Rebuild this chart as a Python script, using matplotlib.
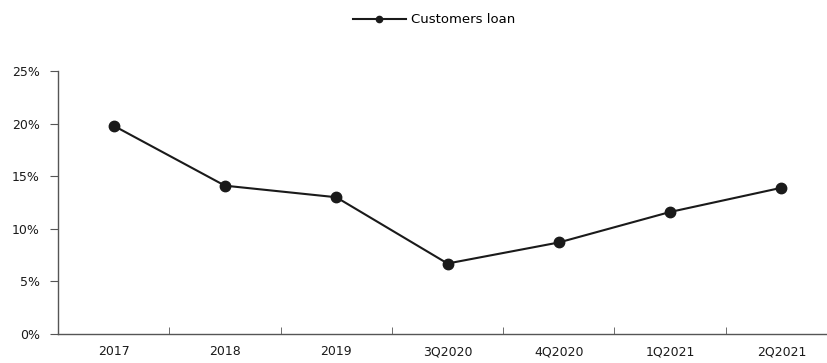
import matplotlib.pyplot as plt
from matplotlib.ticker import FixedLocator, PercentFormatter

## data
periods = ["2017", "2018", "2019", "3Q2020", "4Q2020", "1Q2021", "2Q2021"]
customers_loan = [19.8, 14.1, 13.0, 6.7, 8.7, 11.6, 13.9]

fig = plt.figure(figsize=(8.27, 3.63), dpi=100)
ax = fig.add_axes([0.0701, 0.0799, 0.93, 0.7245])

x = range(len(periods))
ax.plot(x, customers_loan, color="#1a1a1a", linewidth=1.5, marker="o",
        markersize=7.5, label="Customers loan")

ax.set_ylim(0, 25)
ax.set_yticks([0, 5, 10, 15, 20, 25])
ax.yaxis.set_major_formatter(PercentFormatter(decimals=0))
ax.set_xlim(-0.5, 6.41)
ax.set_xticks(list(x))
ax.set_xticklabels(periods)
# category boundary ticks
ax.xaxis.set_minor_locator(FixedLocator([i + 0.5 for i in range(len(periods))]))
ax.tick_params(axis="x", which="major", length=0, pad=8, labelsize=9, colors="#1a1a1a")
ax.tick_params(axis="x", which="minor", direction="in", length=5, color="#555555")
ax.tick_params(axis="y", length=6, color="#555555", labelsize=9, labelcolor="#1a1a1a", pad=7)

for s in ["top", "right"]:
    ax.spines[s].set_visible(False)
for s in ["left", "bottom"]:
    ax.spines[s].set_color("#555555")
    ax.spines[s].set_linewidth(1.0)

fig.legend(loc="center", bbox_to_anchor=(0.525, 0.945), frameon=False, fontsize=9.5,
           handlelength=4.0, handletextpad=0.4, markerscale=0.6)

plt.savefig("out.png", dpi=100)
